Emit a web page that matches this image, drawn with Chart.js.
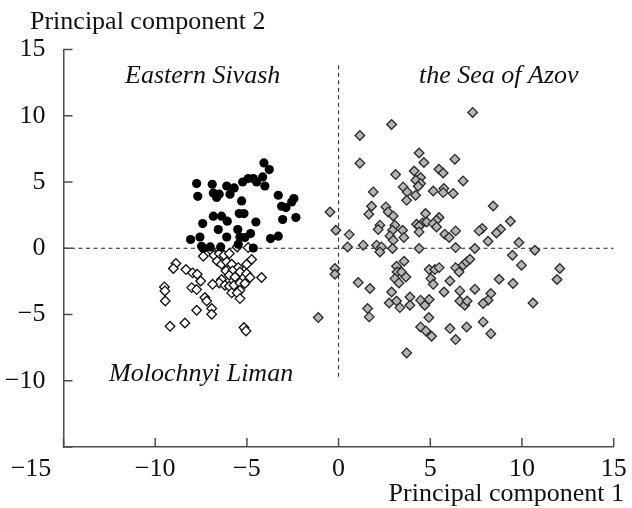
<!DOCTYPE html>
<html lang="en">
  <head>
    <meta charset="utf-8" />
    <title>Principal components</title>
    <style>
      * {
        margin: 0;
        padding: 0;
      }
      body {
        background: #fff;
      }
      .chartBox {
        width: 632px;
        height: 508px;
      }
    </style>
  </head>
  <body>
    <div class="chartBox">
      <canvas id="myChart"></canvas>
    </div>

    <script src="https://cdn.jsdelivr.net/npm/chart.js"></script>

    <script>
      // axis ticks
      const axisTicks = [-15, -10, -5, 0, 5, 10, 15];

      // Eastern Sivash (black circles)
      const sivash = [
        [-4.07, 6.44], [-3.78, 5.94], [-7.74, 4.88], [-6.89, 4.83], [-6.10, 4.70],
        [-5.69, 4.55], [-5.23, 5.00], [-4.93, 5.26], [-4.65, 5.26], [-4.47, 5.00],
        [-4.14, 5.38], [-4.02, 4.70], [-7.68, 3.92], [-6.83, 4.17], [-6.65, 3.83],
        [-6.51, 4.08], [-5.92, 4.08], [-5.29, 3.57], [-3.29, 4.00], [-2.44, 3.75],
        [-2.56, 3.49], [-2.87, 3.07], [-3.11, 3.17], [-2.33, 2.32], [-3.05, 2.17],
        [-6.83, 2.42], [-6.38, 2.42], [-6.07, 2.04], [-5.42, 2.62], [-5.16, 2.62],
        [-7.41, 1.86], [-4.51, 1.98], [-6.56, 1.41], [-5.50, 1.41], [-4.80, 1.11],
        [-5.38, 0.85], [-5.11, 0.81], [-6.10, 0.85], [-7.56, 0.85], [-8.07, 0.66],
        [-7.47, 0.15], [-5.47, 0.30], [-3.71, 0.73], [-3.29, 0.91], [-6.43, 0.10],
        [-4.65, 0.02], [-7.38, -0.02], [-7.00, 0.10],
      ];

      // Molochnyi Liman (white diamonds)
      const molochnyi = [
        [-7.38, -0.60], [-6.92, -0.20], [-6.80, -0.53], [-6.51, -0.40], [-6.25, -0.53],
        [-5.96, -0.40], [-5.53, 0.10], [-4.93, 0.05], [-6.62, -0.96], [-6.38, -1.21],
        [-6.10, -1.03], [-5.83, -1.21], [-4.74, -0.85], [-5.01, -1.21], [-5.47, -1.46],
        [-8.87, -1.15], [-9.01, -1.53], [-8.32, -1.61], [-7.96, -1.86], [-7.71, -1.96],
        [-7.52, -2.47], [-6.14, -1.71], [-5.78, -1.71], [-5.38, -1.79], [-5.96, -2.04],
        [-5.65, -2.17], [-5.01, -1.91], [-4.83, -2.21], [-4.20, -2.21], [-6.38, -2.36],
        [-6.51, -2.62], [-6.87, -2.72], [-6.20, -2.79], [-5.96, -2.87], [-5.71, -2.79],
        [-5.38, -2.62], [-5.11, -2.66], [-5.83, -3.37], [-5.38, -3.17], [-5.53, -3.37],
        [-5.38, -3.80], [-9.50, -2.92], [-9.47, -3.22], [-8.01, -2.97], [-7.74, -3.12],
        [-9.45, -3.98], [-7.29, -3.72], [-7.19, -3.98], [-7.74, -4.68], [-6.92, -4.55],
        [-6.92, -4.98], [-9.19, -5.89], [-8.38, -5.64], [-5.16, -5.98], [-5.05, -6.24],
      ];

      // the Sea of Azov (gray diamonds)
      const azov = [
        [2.89, 9.34], [1.16, 8.51], [1.16, 6.42], [4.39, 7.19], [4.65, 6.47],
        [6.34, 6.72], [3.11, 5.56], [4.12, 5.83], [4.47, 5.34], [4.21, 5.13],
        [4.47, 4.88], [4.34, 4.68], [5.47, 5.96], [5.70, 5.68], [6.79, 5.08],
        [1.89, 4.25], [3.52, 4.63], [3.74, 4.25], [3.71, 3.62], [4.20, 4.00],
        [5.16, 4.32], [5.74, 4.51], [5.70, 4.20], [6.25, 4.13], [1.80, 3.17],
        [1.65, 2.57], [2.58, 3.12], [2.70, 2.74], [2.98, 2.44], [4.74, 2.62],
        [5.48, 2.32], [5.34, 2.11], [4.25, 1.81], [4.58, 1.91], [4.80, 1.98],
        [5.16, 1.86], [5.34, 1.61], [4.39, 1.66], [4.39, 1.23], [2.25, 1.74],
        [2.16, 1.41], [3.07, 1.74], [2.94, 1.36], [3.49, 1.36], [3.56, 0.81],
        [2.80, 0.93], [2.98, 0.60], [5.79, 1.06], [6.03, 0.81], [6.38, 1.31],
        [0.58, 1.03], [-0.15, 1.36], [-0.47, 2.74], [0.49, 0.10], [1.34, 0.23],
        [2.07, 0.23], [2.34, 0.10], [2.94, -0.02], [4.39, -0.02], [6.38, 0.05],
        [2.25, -0.28], [-0.20, -1.53], [-0.20, -1.96], [1.07, -2.59], [1.71, -3.04],
        [-1.11, -5.23], [1.58, -4.55], [1.67, -5.18], [3.16, -1.36], [3.57, -0.98],
        [3.19, -1.79], [3.43, -1.79], [3.07, -2.29], [3.67, -2.17], [3.29, -2.62],
        [2.89, -3.30], [2.76, -4.13], [3.16, -3.98], [3.34, -4.48], [3.89, -3.68],
        [3.89, -4.30], [4.47, -3.92], [4.70, -4.30], [4.94, -3.87], [4.92, -5.23],
        [4.94, -1.61], [5.25, -1.61], [5.48, -1.46], [5.03, -2.29], [5.16, -2.72],
        [5.75, -3.30], [6.07, -2.47], [6.38, -1.46], [6.57, -1.79], [6.79, -1.28],
        [6.98, -1.03], [6.61, -3.22], [6.61, -3.98], [6.88, -4.30], [7.01, -3.98],
        [6.98, -5.94], [4.47, -5.94], [4.76, -6.24], [5.07, -6.64], [6.07, -6.06],
        [6.38, -6.89], [3.71, -7.90], [8.43, 3.19], [9.37, 2.04], [8.83, 1.43],
        [8.61, 1.15], [7.83, 1.49], [7.66, 1.31], [9.83, 0.43], [8.15, 0.53],
        [7.43, -0.02], [10.70, -0.15], [9.48, -0.53], [9.97, -1.28], [7.16, -0.83],
        [8.75, -2.34], [9.51, -2.66], [12.06, -1.53], [11.91, -2.36], [7.43, -3.09],
        [8.30, -3.42], [8.15, -3.92], [7.88, -4.17], [10.60, -4.13], [7.88, -5.56],
        [8.30, -6.45], [7.31, 10.25],
      ];

      // dashed reference lines
      const vLine = [[0, -9.7], [0, 14]];
      const hLine = [[-15, 0], [15, 0]];

      const toXY = (arr) => arr.map((p) => ({ x: p[0], y: p[1] }));
      const minus = (v) => (v < 0 ? "\u2212" + -v : "" + v);

      Chart.defaults.font.family = '"Liberation Serif", "Times New Roman", serif';
      Chart.defaults.font.size = 26;
      Chart.defaults.color = "#111";

      // inward tick marks + free text labels
      const decorations = {
        id: "decorations",
        afterDraw(chart) {
          const { ctx, scales: { x, y }, chartArea: { left, bottom } } = chart;
          ctx.save();
          ctx.strokeStyle = "#4d4d4d";
          ctx.lineWidth = 1.5;
          ctx.beginPath();
          axisTicks.forEach((v) => {
            const px = x.getPixelForValue(v);
            ctx.moveTo(px, bottom);
            ctx.lineTo(px, bottom - 9);
            const py = y.getPixelForValue(v);
            ctx.moveTo(left, py);
            ctx.lineTo(left + 9, py);
          });
          ctx.stroke();

          ctx.fillStyle = "#111";
          ctx.textBaseline = "alphabetic";
          ctx.font = '26px "Liberation Serif", serif';
          ctx.textAlign = "left";
          ctx.fillText("Principal component 2", 30, 29);
          ctx.textAlign = "right";
          ctx.fillText("Principal component 1", 624, 501);

          ctx.font = 'italic 26px "Liberation Serif", serif';
          ctx.textAlign = "left";
          ctx.fillText("Eastern Sivash", 125, 83);
          ctx.fillText("the Sea of Azov", 419, 83);
          ctx.fillText("Molochnyi Liman", 109, 381);
          ctx.restore();
        },
      };

      const data = {
        datasets: [
          {
            label: "Eastern Sivash",
            data: toXY(sivash),
            pointStyle: "circle",
            pointRadius: 4.6,
            backgroundColor: "#000",
            borderColor: "#000",
            borderWidth: 0,
          },
          {
            label: "Molochnyi Liman",
            data: toXY(molochnyi),
            pointStyle: "rectRot",
            pointRadius: 4.8,
            backgroundColor: "#fff",
            borderColor: "#111",
            borderWidth: 1.3,
          },
          {
            label: "the Sea of Azov",
            data: toXY(azov),
            pointStyle: "rectRot",
            pointRadius: 4.8,
            backgroundColor: "#b4b4b4",
            borderColor: "#2a2a2a",
            borderWidth: 1.3,
          },
          {
            label: "x = 0",
            data: toXY(vLine),
            showLine: true,
            pointRadius: 0,
            borderColor: "#222",
            borderWidth: 1,
            borderDash: [4, 3.5],
          },
          {
            label: "y = 0",
            data: toXY(hLine),
            showLine: true,
            pointRadius: 0,
            borderColor: "#222",
            borderWidth: 1,
            borderDash: [4, 3.5],
          },
        ],
      };

      const config = {
        type: "scatter",
        data: data,
        options: {
          responsive: true,
          maintainAspectRatio: false,
          animation: false,
          layout: {
            padding: { top: 49.5, right: 18.3, left: 0, bottom: 0 },
          },
          plugins: {
            legend: { display: false },
            tooltip: { enabled: false },
          },
          scales: {
            x: {
              min: -15,
              max: 15,
              afterFit: (scale) => {
                scale.height = 61;
              },
              afterBuildTicks: (scale) => {
                scale.ticks = axisTicks.map((v) => ({ value: v }));
              },
              grid: { display: false },
              border: { display: true, color: "#4d4d4d", width: 1.5 },
              ticks: {
                padding: -1,
                maxRotation: 0,
                autoSkip: false,
                // the -15 label sits left of the axis corner
                callback: (v) => (v === -15 ? minus(v) + "          " : minus(v)),
              },
            },
            y: {
              min: -15,
              max: 15,
              afterFit: (scale) => {
                scale.width = 63.5;
              },
              afterBuildTicks: (scale) => {
                scale.ticks = axisTicks.map((v) => ({ value: v }));
              },
              grid: { display: false },
              border: { display: true, color: "#4d4d4d", width: 1.5 },
              ticks: {
                padding: 10,
                autoSkip: false,
                callback: (v) => (v === -15 ? "" : minus(v)),
              },
            },
          },
        },
        plugins: [decorations],
      };

      const ctx = document.getElementById("myChart");
      const myChart = new Chart(ctx, config);
    </script>
  </body>
</html>
